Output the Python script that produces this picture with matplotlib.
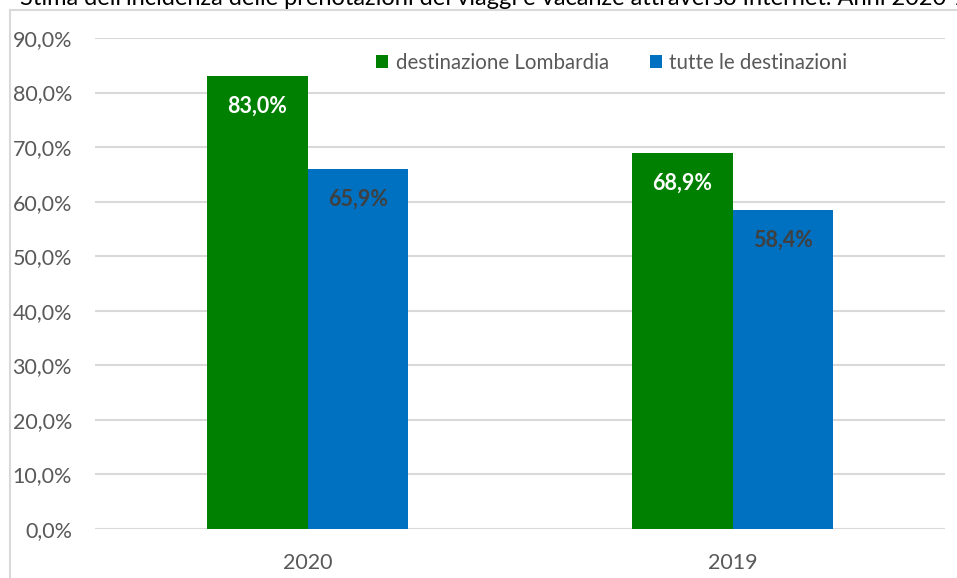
import matplotlib.pyplot as plt
from matplotlib.lines import Line2D
import numpy as np

plt.rcParams["font.family"] = ["Lato", "DejaVu Sans"]

years = ["2020", "2019"]
series_names = ["destinazione Lombardia", "tutte le destinazioni"]
lombardia = [83.0, 68.9]
tutte = [65.9, 58.4]
yticks = [0, 10, 20, 30, 40, 50, 60, 70, 80, 90]

GREEN = "#008000"
BLUE = "#0070C0"
GRID = "#d9d9d9"
TEXT = "#595959"

W, H = 957, 578
fig = plt.figure(figsize=(W / 100, H / 100), dpi=100)
fig.patch.set_facecolor("white")

# title is clipped by the top edge, as in the source image
fig.text(20 / W, 1 - 5 / H,
         "Stima dell'incidenza delle prenotazioni dei viaggi e vacanze attraverso Internet. Anni 2020-2019",
         ha="left", va="baseline", fontsize=17, color="black")

# chart frame (only top and left edges visible)
fig.add_artist(Line2D([10 / W, 1.0], [1 - 10 / H, 1 - 10 / H], color=GRID, lw=1.5,
                      transform=fig.transFigure))
fig.add_artist(Line2D([10 / W, 10 / W], [0, 1 - 10 / H], color=GRID, lw=1.5,
                      transform=fig.transFigure))

ax = fig.add_axes([95 / W, 1 - 529 / H, (945 - 95) / W, (529 - 38) / H])
x = np.arange(len(years))
bw = 0.237
b1 = ax.bar(x - bw / 2, lombardia, bw, color=GREEN, label=series_names[0], zorder=3)
b2 = ax.bar(x + bw / 2, tutte, bw, color=BLUE, label=series_names[1], zorder=3)


def fmt(v):
    return f"{v:.1f}%".replace(".", ",")


for bars, vals, col in ((b1, lombardia, "white"), (b2, tutte, "#404040")):
    for rect, v in zip(bars, vals):
        ax.annotate(fmt(v), (rect.get_x() + rect.get_width() / 2, v),
                    xytext=(0, -30), textcoords="offset pixels",
                    ha="center", va="center", fontsize=15.5, fontweight="bold",
                    color=col, zorder=4)

ax.set_xlim(-0.5, 1.5)
ax.set_ylim(0, 90)
ax.set_yticks(yticks)
ax.set_yticklabels([fmt(t) for t in yticks])
ax.set_xticks(x)
ax.set_xticklabels(years)
ax.tick_params(axis="both", length=0, labelsize=15.5, colors=TEXT)
ax.tick_params(axis="y", pad=16.5)
ax.tick_params(axis="x", pad=17)
ax.yaxis.grid(True, color=GRID, lw=1.5, zorder=0)
for s in ax.spines.values():
    s.set_visible(False)

ax.legend(loc="center left", bbox_to_anchor=(376 / W, 1 - 63 / H),
          bbox_transform=fig.transFigure, ncol=2, frameon=False,
          borderpad=0, borderaxespad=0,
          fontsize=14.8, labelcolor=TEXT, handlelength=0.6, handleheight=0.6,
          handletextpad=0.35, columnspacing=2.0)

fig.savefig("out.png", dpi=100, facecolor="white")
